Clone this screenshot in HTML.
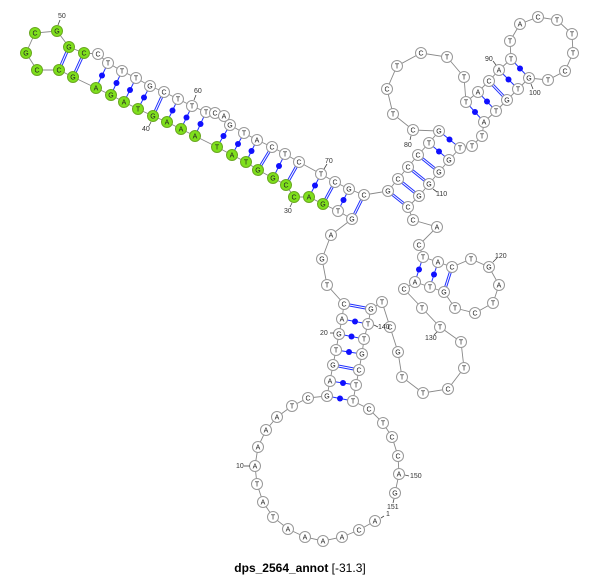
<!DOCTYPE html>
<html><head><meta charset="utf-8"><style>
body{margin:0;background:#fff;width:600px;height:575px;overflow:hidden}
svg text{font-family:"Liberation Sans",sans-serif}
.n circle{fill:#fff;stroke:#999;stroke-width:1}
.n text{font-size:7px;text-anchor:middle;fill:#222}
.g circle{fill:#7fe01c;stroke:#6aa820}
.lb{font-size:7px;fill:#333}
.tk{stroke:#444;stroke-width:.8}
.pd{stroke:#2030ff;stroke-width:1}
.pdd{stroke:#2030ff;stroke-width:3}
.pdw{stroke:#fff;stroke-width:1}
</style></head><body>
<svg width="600" height="575" xmlns="http://www.w3.org/2000/svg">
<polyline fill="none" stroke="#888" stroke-width="0.9" points="375,521 359,530 342,537 323,541 305,537 288,529 273,517 263,502 257,484 255,466 258,447 266,430 277,417 292,406 308,398 327,396 330,381 333,365 336,350 339,334 342,319 344,304 327,285 322,259 331,235 352,219 338,211 323,204 309,197 294,197 286,185 273,178 258,170 246,162 232,155 217,147 195,136 181,129 167,122 153,116 138,109 124,102 111,95 96,88 73,77 59,70 37,70 26,53 35,33 57,31 69,47 84,53 98,54 108,63 122,71 136,78 150,86 164,92 178,99 192,106 206,112 215,113 224,116 230,125 244,133 257,140 272,147 285,154 299,162 321,174 335,182 349,189 364,195 388,191 398,179 408,167 418,155 429,143 439,131 413,130 393,114 387,89 397,66 421,53 447,57 464,77 466,102 478,92 489,81 499,70 511,59 510,41 520,24 538,17 557,20 572,34 573,53 565,71 548,80 529,78 518,89 507,100 496,111 484,122 482,136 472,146 460,148 449,160 439,172 429,184 419,196 408,207 413,220 437,227 419,245 423,257 438,262 452,267 471,259 489,267 499,285 493,303 475,313 455,308 444,292 430,287 415,282 404,289 422,308 440,327 461,342 464,368 448,389 423,393 402,377 398,352 390,327 382,302 371,309 368,324 364,339 362,354 359,370 356,385 353,401 369,409 383,423 392,437 398,456 399,474 395,493"/>
<g>
<line class="pdd" x1="333" y1="365" x2="359" y2="370"/><line class="pdw" x1="333" y1="365" x2="359" y2="370"/>
<line class="pdd" x1="344" y1="304" x2="371" y2="309"/><line class="pdw" x1="344" y1="304" x2="371" y2="309"/>
<line class="pdd" x1="352" y1="219" x2="364" y2="195"/><line class="pdw" x1="352" y1="219" x2="364" y2="195"/>
<line class="pdd" x1="323" y1="204" x2="335" y2="182"/><line class="pdw" x1="323" y1="204" x2="335" y2="182"/>
<line class="pdd" x1="286" y1="185" x2="299" y2="162"/><line class="pdw" x1="286" y1="185" x2="299" y2="162"/>
<line class="pdd" x1="258" y1="170" x2="272" y2="147"/><line class="pdw" x1="258" y1="170" x2="272" y2="147"/>
<line class="pdd" x1="153" y1="116" x2="164" y2="92"/><line class="pdw" x1="153" y1="116" x2="164" y2="92"/>
<line class="pdd" x1="73" y1="77" x2="84" y2="53"/><line class="pdw" x1="73" y1="77" x2="84" y2="53"/>
<line class="pdd" x1="59" y1="70" x2="69" y2="47"/><line class="pdw" x1="59" y1="70" x2="69" y2="47"/>
<line class="pdd" x1="388" y1="191" x2="408" y2="207"/><line class="pdw" x1="388" y1="191" x2="408" y2="207"/>
<line class="pdd" x1="398" y1="179" x2="419" y2="196"/><line class="pdw" x1="398" y1="179" x2="419" y2="196"/>
<line class="pdd" x1="408" y1="167" x2="429" y2="184"/><line class="pdw" x1="408" y1="167" x2="429" y2="184"/>
<line class="pdd" x1="418" y1="155" x2="439" y2="172"/><line class="pdw" x1="418" y1="155" x2="439" y2="172"/>
<line class="pdd" x1="489" y1="81" x2="507" y2="100"/><line class="pdw" x1="489" y1="81" x2="507" y2="100"/>
<line class="pdd" x1="452" y1="267" x2="444" y2="292"/><line class="pdw" x1="452" y1="267" x2="444" y2="292"/>
</g>
<g fill="#1010ff">
<line class="pd" x1="327" y1="396" x2="353" y2="401"/><circle cx="340" cy="398.5" r="3"/>
<line class="pd" x1="330" y1="381" x2="356" y2="385"/><circle cx="343" cy="383" r="3"/>
<line class="pd" x1="336" y1="350" x2="362" y2="354"/><circle cx="349" cy="352" r="3"/>
<line class="pd" x1="339" y1="334" x2="364" y2="339"/><circle cx="351.5" cy="336.5" r="3"/>
<line class="pd" x1="342" y1="319" x2="368" y2="324"/><circle cx="355" cy="321.5" r="3"/>
<line class="pd" x1="338" y1="211" x2="349" y2="189"/><circle cx="343.5" cy="200" r="3"/>
<line class="pd" x1="309" y1="197" x2="321" y2="174"/><circle cx="315" cy="185.5" r="3"/>
<line class="pd" x1="273" y1="178" x2="285" y2="154"/><circle cx="279" cy="166" r="3"/>
<line class="pd" x1="246" y1="162" x2="257" y2="140"/><circle cx="251.5" cy="151" r="3"/>
<line class="pd" x1="232" y1="155" x2="244" y2="133"/><circle cx="238" cy="144" r="3"/>
<line class="pd" x1="217" y1="147" x2="230" y2="125"/><circle cx="223.5" cy="136" r="3"/>
<line class="pd" x1="195" y1="136" x2="206" y2="112"/><circle cx="200.5" cy="124" r="3"/>
<line class="pd" x1="181" y1="129" x2="192" y2="106"/><circle cx="186.5" cy="117.5" r="3"/>
<line class="pd" x1="167" y1="122" x2="178" y2="99"/><circle cx="172.5" cy="110.5" r="3"/>
<line class="pd" x1="138" y1="109" x2="150" y2="86"/><circle cx="144" cy="97.5" r="3"/>
<line class="pd" x1="124" y1="102" x2="136" y2="78"/><circle cx="130" cy="90" r="3"/>
<line class="pd" x1="111" y1="95" x2="122" y2="71"/><circle cx="116.5" cy="83" r="3"/>
<line class="pd" x1="96" y1="88" x2="108" y2="63"/><circle cx="102" cy="75.5" r="3"/>
<line class="pd" x1="429" y1="143" x2="449" y2="160"/><circle cx="439" cy="151.5" r="3"/>
<line class="pd" x1="439" y1="131" x2="460" y2="148"/><circle cx="449.5" cy="139.5" r="3"/>
<line class="pd" x1="466" y1="102" x2="484" y2="122"/><circle cx="475" cy="112" r="3"/>
<line class="pd" x1="478" y1="92" x2="496" y2="111"/><circle cx="487" cy="101.5" r="3"/>
<line class="pd" x1="499" y1="70" x2="518" y2="89"/><circle cx="508.5" cy="79.5" r="3"/>
<line class="pd" x1="511" y1="59" x2="529" y2="78"/><circle cx="520" cy="68.5" r="3"/>
<line class="pd" x1="423" y1="257" x2="415" y2="282"/><circle cx="419" cy="269.5" r="3"/>
<line class="pd" x1="438" y1="262" x2="430" y2="287"/><circle cx="434" cy="274.5" r="3"/>
</g>
<g class="n">
<g><circle cx="375" cy="521" r="5.5"/><text x="375" y="523.5">A</text></g>
<g><circle cx="359" cy="530" r="5.5"/><text x="359" y="532.5">C</text></g>
<g><circle cx="342" cy="537" r="5.5"/><text x="342" y="539.5">A</text></g>
<g><circle cx="323" cy="541" r="5.5"/><text x="323" y="543.5">A</text></g>
<g><circle cx="305" cy="537" r="5.5"/><text x="305" y="539.5">A</text></g>
<g><circle cx="288" cy="529" r="5.5"/><text x="288" y="531.5">A</text></g>
<g><circle cx="273" cy="517" r="5.5"/><text x="273" y="519.5">T</text></g>
<g><circle cx="263" cy="502" r="5.5"/><text x="263" y="504.5">A</text></g>
<g><circle cx="257" cy="484" r="5.5"/><text x="257" y="486.5">T</text></g>
<g><circle cx="255" cy="466" r="5.5"/><text x="255" y="468.5">A</text></g>
<g><circle cx="258" cy="447" r="5.5"/><text x="258" y="449.5">A</text></g>
<g><circle cx="266" cy="430" r="5.5"/><text x="266" y="432.5">A</text></g>
<g><circle cx="277" cy="417" r="5.5"/><text x="277" y="419.5">A</text></g>
<g><circle cx="292" cy="406" r="5.5"/><text x="292" y="408.5">T</text></g>
<g><circle cx="308" cy="398" r="5.5"/><text x="308" y="400.5">C</text></g>
<g><circle cx="327" cy="396" r="5.5"/><text x="327" y="398.5">G</text></g>
<g><circle cx="330" cy="381" r="5.5"/><text x="330" y="383.5">A</text></g>
<g><circle cx="333" cy="365" r="5.5"/><text x="333" y="367.5">G</text></g>
<g><circle cx="336" cy="350" r="5.5"/><text x="336" y="352.5">T</text></g>
<g><circle cx="339" cy="334" r="5.5"/><text x="339" y="336.5">G</text></g>
<g><circle cx="342" cy="319" r="5.5"/><text x="342" y="321.5">A</text></g>
<g><circle cx="344" cy="304" r="5.5"/><text x="344" y="306.5">C</text></g>
<g><circle cx="327" cy="285" r="5.5"/><text x="327" y="287.5">T</text></g>
<g><circle cx="322" cy="259" r="5.5"/><text x="322" y="261.5">G</text></g>
<g><circle cx="331" cy="235" r="5.5"/><text x="331" y="237.5">A</text></g>
<g><circle cx="352" cy="219" r="5.5"/><text x="352" y="221.5">G</text></g>
<g><circle cx="338" cy="211" r="5.5"/><text x="338" y="213.5">T</text></g>
<g class="g"><circle cx="323" cy="204" r="5.5"/><text x="323" y="206.5">G</text></g>
<g class="g"><circle cx="309" cy="197" r="5.5"/><text x="309" y="199.5">A</text></g>
<g class="g"><circle cx="294" cy="197" r="5.5"/><text x="294" y="199.5">C</text></g>
<g class="g"><circle cx="286" cy="185" r="5.5"/><text x="286" y="187.5">C</text></g>
<g class="g"><circle cx="273" cy="178" r="5.5"/><text x="273" y="180.5">G</text></g>
<g class="g"><circle cx="258" cy="170" r="5.5"/><text x="258" y="172.5">G</text></g>
<g class="g"><circle cx="246" cy="162" r="5.5"/><text x="246" y="164.5">T</text></g>
<g class="g"><circle cx="232" cy="155" r="5.5"/><text x="232" y="157.5">A</text></g>
<g class="g"><circle cx="217" cy="147" r="5.5"/><text x="217" y="149.5">T</text></g>
<g class="g"><circle cx="195" cy="136" r="5.5"/><text x="195" y="138.5">A</text></g>
<g class="g"><circle cx="181" cy="129" r="5.5"/><text x="181" y="131.5">A</text></g>
<g class="g"><circle cx="167" cy="122" r="5.5"/><text x="167" y="124.5">A</text></g>
<g class="g"><circle cx="153" cy="116" r="5.5"/><text x="153" y="118.5">G</text></g>
<g class="g"><circle cx="138" cy="109" r="5.5"/><text x="138" y="111.5">T</text></g>
<g class="g"><circle cx="124" cy="102" r="5.5"/><text x="124" y="104.5">A</text></g>
<g class="g"><circle cx="111" cy="95" r="5.5"/><text x="111" y="97.5">G</text></g>
<g class="g"><circle cx="96" cy="88" r="5.5"/><text x="96" y="90.5">A</text></g>
<g class="g"><circle cx="73" cy="77" r="5.5"/><text x="73" y="79.5">G</text></g>
<g class="g"><circle cx="59" cy="70" r="5.5"/><text x="59" y="72.5">C</text></g>
<g class="g"><circle cx="37" cy="70" r="5.5"/><text x="37" y="72.5">C</text></g>
<g class="g"><circle cx="26" cy="53" r="5.5"/><text x="26" y="55.5">G</text></g>
<g class="g"><circle cx="35" cy="33" r="5.5"/><text x="35" y="35.5">C</text></g>
<g class="g"><circle cx="57" cy="31" r="5.5"/><text x="57" y="33.5">G</text></g>
<g class="g"><circle cx="69" cy="47" r="5.5"/><text x="69" y="49.5">G</text></g>
<g class="g"><circle cx="84" cy="53" r="5.5"/><text x="84" y="55.5">C</text></g>
<g><circle cx="98" cy="54" r="5.5"/><text x="98" y="56.5">C</text></g>
<g><circle cx="108" cy="63" r="5.5"/><text x="108" y="65.5">T</text></g>
<g><circle cx="122" cy="71" r="5.5"/><text x="122" y="73.5">T</text></g>
<g><circle cx="136" cy="78" r="5.5"/><text x="136" y="80.5">T</text></g>
<g><circle cx="150" cy="86" r="5.5"/><text x="150" y="88.5">G</text></g>
<g><circle cx="164" cy="92" r="5.5"/><text x="164" y="94.5">C</text></g>
<g><circle cx="178" cy="99" r="5.5"/><text x="178" y="101.5">T</text></g>
<g><circle cx="192" cy="106" r="5.5"/><text x="192" y="108.5">T</text></g>
<g><circle cx="206" cy="112" r="5.5"/><text x="206" y="114.5">T</text></g>
<g><circle cx="215" cy="113" r="5.5"/><text x="215" y="115.5">C</text></g>
<g><circle cx="224" cy="116" r="5.5"/><text x="224" y="118.5">A</text></g>
<g><circle cx="230" cy="125" r="5.5"/><text x="230" y="127.5">G</text></g>
<g><circle cx="244" cy="133" r="5.5"/><text x="244" y="135.5">T</text></g>
<g><circle cx="257" cy="140" r="5.5"/><text x="257" y="142.5">A</text></g>
<g><circle cx="272" cy="147" r="5.5"/><text x="272" y="149.5">C</text></g>
<g><circle cx="285" cy="154" r="5.5"/><text x="285" y="156.5">T</text></g>
<g><circle cx="299" cy="162" r="5.5"/><text x="299" y="164.5">C</text></g>
<g><circle cx="321" cy="174" r="5.5"/><text x="321" y="176.5">T</text></g>
<g><circle cx="335" cy="182" r="5.5"/><text x="335" y="184.5">C</text></g>
<g><circle cx="349" cy="189" r="5.5"/><text x="349" y="191.5">G</text></g>
<g><circle cx="364" cy="195" r="5.5"/><text x="364" y="197.5">C</text></g>
<g><circle cx="388" cy="191" r="5.5"/><text x="388" y="193.5">G</text></g>
<g><circle cx="398" cy="179" r="5.5"/><text x="398" y="181.5">C</text></g>
<g><circle cx="408" cy="167" r="5.5"/><text x="408" y="169.5">C</text></g>
<g><circle cx="418" cy="155" r="5.5"/><text x="418" y="157.5">C</text></g>
<g><circle cx="429" cy="143" r="5.5"/><text x="429" y="145.5">T</text></g>
<g><circle cx="439" cy="131" r="5.5"/><text x="439" y="133.5">G</text></g>
<g><circle cx="413" cy="130" r="5.5"/><text x="413" y="132.5">C</text></g>
<g><circle cx="393" cy="114" r="5.5"/><text x="393" y="116.5">T</text></g>
<g><circle cx="387" cy="89" r="5.5"/><text x="387" y="91.5">C</text></g>
<g><circle cx="397" cy="66" r="5.5"/><text x="397" y="68.5">T</text></g>
<g><circle cx="421" cy="53" r="5.5"/><text x="421" y="55.5">C</text></g>
<g><circle cx="447" cy="57" r="5.5"/><text x="447" y="59.5">T</text></g>
<g><circle cx="464" cy="77" r="5.5"/><text x="464" y="79.5">T</text></g>
<g><circle cx="466" cy="102" r="5.5"/><text x="466" y="104.5">T</text></g>
<g><circle cx="478" cy="92" r="5.5"/><text x="478" y="94.5">A</text></g>
<g><circle cx="489" cy="81" r="5.5"/><text x="489" y="83.5">C</text></g>
<g><circle cx="499" cy="70" r="5.5"/><text x="499" y="72.5">A</text></g>
<g><circle cx="511" cy="59" r="5.5"/><text x="511" y="61.5">T</text></g>
<g><circle cx="510" cy="41" r="5.5"/><text x="510" y="43.5">T</text></g>
<g><circle cx="520" cy="24" r="5.5"/><text x="520" y="26.5">A</text></g>
<g><circle cx="538" cy="17" r="5.5"/><text x="538" y="19.5">C</text></g>
<g><circle cx="557" cy="20" r="5.5"/><text x="557" y="22.5">T</text></g>
<g><circle cx="572" cy="34" r="5.5"/><text x="572" y="36.5">T</text></g>
<g><circle cx="573" cy="53" r="5.5"/><text x="573" y="55.5">T</text></g>
<g><circle cx="565" cy="71" r="5.5"/><text x="565" y="73.5">C</text></g>
<g><circle cx="548" cy="80" r="5.5"/><text x="548" y="82.5">T</text></g>
<g><circle cx="529" cy="78" r="5.5"/><text x="529" y="80.5">G</text></g>
<g><circle cx="518" cy="89" r="5.5"/><text x="518" y="91.5">T</text></g>
<g><circle cx="507" cy="100" r="5.5"/><text x="507" y="102.5">G</text></g>
<g><circle cx="496" cy="111" r="5.5"/><text x="496" y="113.5">T</text></g>
<g><circle cx="484" cy="122" r="5.5"/><text x="484" y="124.5">A</text></g>
<g><circle cx="482" cy="136" r="5.5"/><text x="482" y="138.5">T</text></g>
<g><circle cx="472" cy="146" r="5.5"/><text x="472" y="148.5">T</text></g>
<g><circle cx="460" cy="148" r="5.5"/><text x="460" y="150.5">T</text></g>
<g><circle cx="449" cy="160" r="5.5"/><text x="449" y="162.5">G</text></g>
<g><circle cx="439" cy="172" r="5.5"/><text x="439" y="174.5">G</text></g>
<g><circle cx="429" cy="184" r="5.5"/><text x="429" y="186.5">G</text></g>
<g><circle cx="419" cy="196" r="5.5"/><text x="419" y="198.5">G</text></g>
<g><circle cx="408" cy="207" r="5.5"/><text x="408" y="209.5">C</text></g>
<g><circle cx="413" cy="220" r="5.5"/><text x="413" y="222.5">C</text></g>
<g><circle cx="437" cy="227" r="5.5"/><text x="437" y="229.5">A</text></g>
<g><circle cx="419" cy="245" r="5.5"/><text x="419" y="247.5">C</text></g>
<g><circle cx="423" cy="257" r="5.5"/><text x="423" y="259.5">T</text></g>
<g><circle cx="438" cy="262" r="5.5"/><text x="438" y="264.5">A</text></g>
<g><circle cx="452" cy="267" r="5.5"/><text x="452" y="269.5">C</text></g>
<g><circle cx="471" cy="259" r="5.5"/><text x="471" y="261.5">T</text></g>
<g><circle cx="489" cy="267" r="5.5"/><text x="489" y="269.5">G</text></g>
<g><circle cx="499" cy="285" r="5.5"/><text x="499" y="287.5">A</text></g>
<g><circle cx="493" cy="303" r="5.5"/><text x="493" y="305.5">T</text></g>
<g><circle cx="475" cy="313" r="5.5"/><text x="475" y="315.5">C</text></g>
<g><circle cx="455" cy="308" r="5.5"/><text x="455" y="310.5">T</text></g>
<g><circle cx="444" cy="292" r="5.5"/><text x="444" y="294.5">G</text></g>
<g><circle cx="430" cy="287" r="5.5"/><text x="430" y="289.5">T</text></g>
<g><circle cx="415" cy="282" r="5.5"/><text x="415" y="284.5">A</text></g>
<g><circle cx="404" cy="289" r="5.5"/><text x="404" y="291.5">C</text></g>
<g><circle cx="422" cy="308" r="5.5"/><text x="422" y="310.5">T</text></g>
<g><circle cx="440" cy="327" r="5.5"/><text x="440" y="329.5">T</text></g>
<g><circle cx="461" cy="342" r="5.5"/><text x="461" y="344.5">T</text></g>
<g><circle cx="464" cy="368" r="5.5"/><text x="464" y="370.5">T</text></g>
<g><circle cx="448" cy="389" r="5.5"/><text x="448" y="391.5">C</text></g>
<g><circle cx="423" cy="393" r="5.5"/><text x="423" y="395.5">T</text></g>
<g><circle cx="402" cy="377" r="5.5"/><text x="402" y="379.5">T</text></g>
<g><circle cx="398" cy="352" r="5.5"/><text x="398" y="354.5">G</text></g>
<g><circle cx="390" cy="327" r="5.5"/><text x="390" y="329.5">C</text></g>
<g><circle cx="382" cy="302" r="5.5"/><text x="382" y="304.5">T</text></g>
<g><circle cx="371" cy="309" r="5.5"/><text x="371" y="311.5">G</text></g>
<g><circle cx="368" cy="324" r="5.5"/><text x="368" y="326.5">T</text></g>
<g><circle cx="364" cy="339" r="5.5"/><text x="364" y="341.5">T</text></g>
<g><circle cx="362" cy="354" r="5.5"/><text x="362" y="356.5">G</text></g>
<g><circle cx="359" cy="370" r="5.5"/><text x="359" y="372.5">C</text></g>
<g><circle cx="356" cy="385" r="5.5"/><text x="356" y="387.5">T</text></g>
<g><circle cx="353" cy="401" r="5.5"/><text x="353" y="403.5">T</text></g>
<g><circle cx="369" cy="409" r="5.5"/><text x="369" y="411.5">C</text></g>
<g><circle cx="383" cy="423" r="5.5"/><text x="383" y="425.5">T</text></g>
<g><circle cx="392" cy="437" r="5.5"/><text x="392" y="439.5">C</text></g>
<g><circle cx="398" cy="456" r="5.5"/><text x="398" y="458.5">C</text></g>
<g><circle cx="399" cy="474" r="5.5"/><text x="399" y="476.5">A</text></g>
<g><circle cx="395" cy="493" r="5.5"/><text x="395" y="495.5">G</text></g>
</g>
<g>
<line class="tk" x1="60" y1="20" x2="58" y2="25"/><text class="lb" x="58" y="18">50</text>
<line class="tk" x1="196" y1="95" x2="194" y2="100"/><text class="lb" x="194" y="93">60</text>
<line class="tk" x1="151" y1="122" x2="149" y2="126"/><text class="lb" x="142" y="131">40</text>
<line class="tk" x1="327" y1="164" x2="324" y2="169"/><text class="lb" x="325" y="163">70</text>
<line class="tk" x1="292" y1="203" x2="290" y2="207"/><text class="lb" x="284" y="213">30</text>
<line class="tk" x1="493" y1="61" x2="496" y2="65"/><text class="lb" x="485" y="61">90</text>
<line class="tk" x1="531" y1="84" x2="533" y2="89"/><text class="lb" x="529" y="95">100</text>
<line class="tk" x1="411" y1="136" x2="410" y2="140"/><text class="lb" x="404" y="147">80</text>
<line class="tk" x1="433" y1="189" x2="437" y2="192"/><text class="lb" x="436" y="196">110</text>
<line class="tk" x1="493" y1="262" x2="497" y2="258"/><text class="lb" x="495" y="258">120</text>
<line class="tk" x1="437" y1="332" x2="434" y2="335"/><text class="lb" x="425" y="340">130</text>
<line class="tk" x1="374" y1="325" x2="378" y2="327"/><text class="lb" x="378" y="329">140</text>
<line class="tk" x1="330" y1="333" x2="334" y2="333"/><text class="lb" x="320" y="335">20</text>
<line class="tk" x1="244" y1="466" x2="250" y2="466"/><text class="lb" x="236" y="468">10</text>
<line class="tk" x1="405" y1="475" x2="409" y2="476"/><text class="lb" x="410" y="478">150</text>
<line class="tk" x1="394" y1="499" x2="393" y2="503"/><text class="lb" x="387" y="509">151</text>
<line class="tk" x1="381" y1="518" x2="384" y2="516"/><text class="lb" x="386" y="516">1</text>
</g>
<text x="300" y="572" text-anchor="middle" style="font-size:12px;fill:#000"><tspan font-weight="bold">dps_2564_annot</tspan> [-31.3]</text>
</svg>
</body></html>
